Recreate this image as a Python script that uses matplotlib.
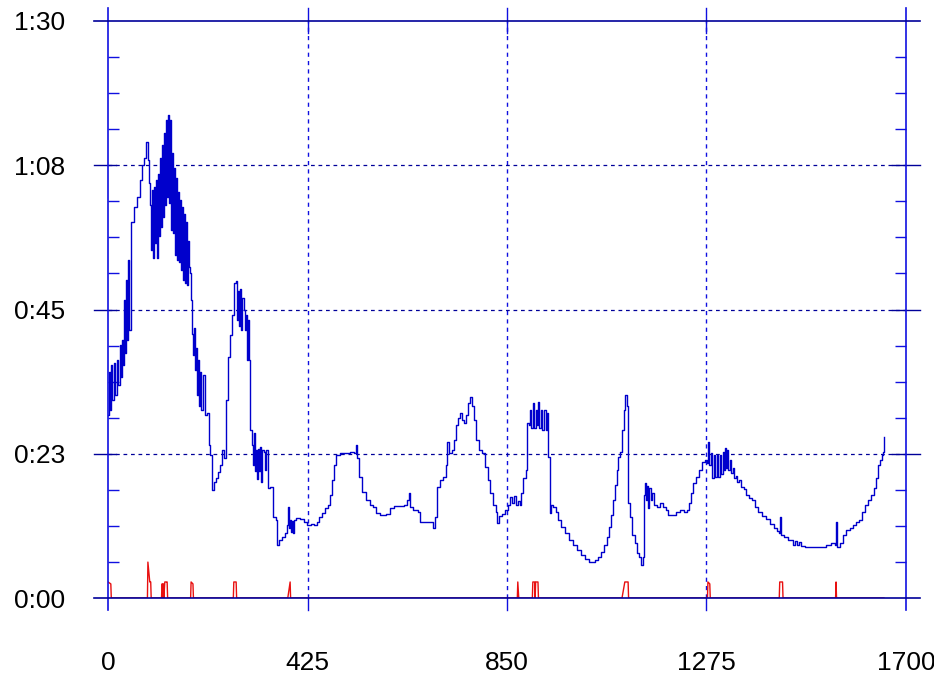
import numpy as np
import matplotlib
matplotlib.use("Agg")
import matplotlib.pyplot as plt
from matplotlib.ticker import MultipleLocator

plt.rcParams["font.family"] = ["Liberation Sans", "DejaVu Sans"]

# blue series (x, seconds)
blue_x = [0, 2, 4, 6, 9, 13, 15, 19, 21, 26, 28, 30, 32, 34, 36, 38, 40, 43, 45,
          49, 55, 62, 68, 72, 77, 81, 85, 87, 89, 92, 94, 96, 98, 100, 102, 104,
          107, 109, 111, 113, 115, 117, 119, 121, 124, 126, 128, 130, 132, 134,
          136, 139, 141, 143, 145, 147, 149, 151, 153, 156, 158, 160, 162, 164,
          166, 168, 170, 173, 175, 177, 179, 181, 183, 185, 188, 190, 192, 194,
          196, 198, 202, 207, 211, 215, 217, 222, 226, 230, 234, 239, 243, 247,
          251, 256, 260, 264, 268, 273, 275, 277, 279, 281, 283, 285, 290, 292,
          294, 296, 298, 300, 302, 307, 309, 311, 313, 315, 317, 320, 322, 324,
          326, 328, 332, 334, 337, 341, 345, 351, 358, 360, 364, 371, 377, 381,
          383, 386, 388, 390, 392, 394, 396, 400, 409, 417, 424, 432, 439, 445,
          449, 456, 462, 469, 473, 477, 481, 486, 494, 505, 515, 524, 528, 530,
          535, 541, 550, 558, 564, 571, 579, 592, 601, 609, 618, 630, 637, 641,
          643, 650, 660, 665, 675, 688, 692, 697, 701, 707, 714, 720, 722, 726,
          733, 737, 741, 745, 750, 754, 758, 762, 767, 771, 775, 780, 784, 790,
          797, 803, 809, 814, 820, 826, 828, 833, 839, 846, 852, 856, 861, 865,
          869, 873, 878, 880, 884, 890, 892, 897, 899, 901, 905, 907, 912, 914,
          916, 918, 922, 924, 929, 933, 935, 937, 941, 944, 948, 954, 958, 965,
          973, 982, 990, 999, 1007, 1016, 1025, 1031, 1037, 1044, 1050, 1056,
          1063, 1067, 1071, 1076, 1080, 1084, 1086, 1091, 1095, 1099, 1101, 1106,
          1108, 1112, 1116, 1123, 1127, 1131, 1135, 1140, 1142, 1144, 1146, 1148,
          1150, 1152, 1157, 1159, 1163, 1169, 1176, 1182, 1188, 1193, 1201, 1210,
          1218, 1227, 1233, 1238, 1242, 1246, 1252, 1259, 1265, 1272, 1276, 1278,
          1280, 1284, 1286, 1291, 1293, 1297, 1299, 1304, 1306, 1310, 1312, 1314,
          1316, 1318, 1320, 1325, 1327, 1331, 1333, 1338, 1340, 1344, 1348, 1355,
          1359, 1365, 1372, 1378, 1384, 1393, 1402, 1410, 1419, 1425, 1429, 1431,
          1433, 1440, 1448, 1455, 1459, 1463, 1468, 1472, 1476, 1485, 1500, 1512,
          1523, 1529, 1540, 1549, 1551, 1553, 1559, 1566, 1572, 1580, 1587, 1593,
          1600, 1606, 1612, 1619, 1625, 1632, 1636, 1640, 1644, 1648, 1651, 1653]
blue_y = [28.5, 35.3, 29.3, 36.3, 30.9, 36.7, 31.7, 37.1, 33.2, 39.5, 34.5, 40.2,
          36.3, 46.5, 38.2, 49.6, 40.2, 52.7, 41.8, 58.7, 61.0, 62.6, 65.2, 67.5,
          68.6, 71.1, 68.3, 64.7, 61.3, 54.3, 63.6, 53.0, 64.1, 55.4, 65.2, 53.0,
          66.1, 56.5, 68.6, 57.8, 70.7, 59.4, 72.5, 61.3, 74.6, 62.6, 75.3, 61.6,
          74.6, 57.4, 69.4, 56.9, 67.1, 53.5, 65.5, 52.7, 63.4, 52.4, 62.1, 51.2,
          61.0, 49.6, 59.9, 49.1, 58.7, 48.8, 55.7, 51.6, 50.7, 46.5, 41.2, 37.9,
          42.1, 35.6, 39.0, 31.7, 37.1, 30.0, 35.3, 29.3, 34.8, 28.5, 28.9, 23.9,
          22.3, 16.8, 18.1, 18.7, 19.7, 20.7, 23.1, 21.8, 30.9, 37.6, 41.0, 44.1,
          49.1, 49.5, 43.4, 47.9, 42.4, 48.2, 41.8, 46.8, 44.9, 41.8, 44.1, 37.1,
          43.4, 37.1, 26.2, 23.9, 20.7, 25.7, 19.8, 23.1, 18.6, 23.2, 19.8, 23.6,
          18.1, 23.1, 22.8, 20.0, 23.1, 17.2, 17.3, 12.6, 12.2, 8.3, 9.1, 9.5,
          10.1, 11.4, 14.2, 10.9, 12.2, 10.3, 12.0, 10.1, 12.2, 12.5, 12.3, 11.9,
          11.4, 11.5, 11.4, 11.9, 12.6, 13.3, 14.0, 14.5, 16.1, 18.4, 20.7, 22.3,
          22.6, 22.6, 22.8, 22.6, 23.9, 21.8, 18.9, 16.5, 15.3, 14.5, 14.2, 13.3,
          12.9, 13.1, 14.0, 14.4, 14.4, 14.5, 15.3, 16.4, 14.2, 13.7, 13.4, 11.9,
          11.9, 11.9, 10.9, 12.6, 17.3, 18.4, 18.9, 20.7, 24.3, 22.6, 23.1, 24.6,
          27.0, 28.1, 28.9, 27.8, 27.3, 28.5, 30.4, 31.4, 30.0, 27.8, 24.6, 23.1,
          22.6, 20.4, 18.4, 16.4, 14.5, 13.4, 11.7, 12.8, 13.1, 13.7, 14.5, 15.8,
          14.8, 15.9, 14.5, 15.1, 14.5, 16.4, 18.7, 20.0, 27.3, 27.0, 29.3, 26.5,
          30.4, 26.5, 29.3, 27.0, 30.6, 26.5, 29.3, 26.2, 29.3, 26.2, 28.9, 22.0,
          13.3, 14.5, 14.2, 13.4, 12.2, 11.1, 10.1, 9.0, 8.3, 7.5, 6.7, 6.1, 5.6,
          5.6, 5.9, 6.4, 7.2, 8.3, 9.5, 11.1, 12.9, 15.3, 17.6, 20.0, 22.0, 22.8,
          26.2, 29.3, 31.7, 29.9, 14.8, 12.6, 9.8, 8.6, 7.0, 6.4, 5.1, 6.4, 16.1,
          17.9, 15.3, 17.5, 14.0, 17.2, 15.3, 16.4, 14.5, 14.2, 14.8, 14.2, 13.7,
          12.9, 12.9, 13.4, 13.7, 13.4, 13.7, 14.8, 16.4, 17.9, 18.9, 20.0, 21.2,
          21.5, 21.1, 24.3, 20.8, 22.6, 18.7, 22.3, 18.9, 22.3, 18.9, 22.3, 19.3,
          22.8, 20.0, 23.4, 20.3, 23.1, 20.0, 21.5, 19.5, 20.3, 18.7, 19.0, 18.1,
          18.4, 17.3, 17.0, 16.1, 15.6, 15.3, 14.2, 13.4, 12.8, 12.3, 11.5, 10.9,
          10.5, 10.1, 12.6, 9.8, 9.5, 9.0, 9.0, 8.3, 8.9, 8.3, 8.7, 8.1, 8.0, 8.0,
          8.0, 8.0, 8.3, 8.6, 8.3, 11.9, 8.0, 8.6, 9.8, 10.6, 10.9, 11.4, 11.9,
          12.2, 13.4, 14.5, 15.3, 16.1, 17.2, 18.7, 20.7, 21.5, 22.3, 22.8, 25.1]

# red series (x, seconds)
red_x = [0, 6, 7, 84, 85, 89, 91, 92, 114, 115, 116, 117, 118, 119, 121, 124,
         126, 127, 176, 177, 181, 182, 267, 268, 273, 274, 383, 388, 389, 872,
         873, 875, 904, 905, 909, 910, 911, 916, 917, 1095, 1101, 1108, 1109,
         1277, 1278, 1282, 1283, 1430, 1431, 1437, 1438, 1550, 1551, 1552, 1653]
red_y = [2.5, 2.2, 0, 0, 5.6, 2.5, 2.5, 0, 0, 2.2, 2.2, 0, 2.2, 0, 2.5, 2.5,
         2.5, 0, 0, 2.5, 2.2, 0, 0, 2.5, 2.5, 0, 0, 2.5, 0, 0,
         2.5, 0, 0, 2.5, 2.5, 0, 2.5, 2.5, 0, 0, 2.5, 2.5, 0,
         0, 2.5, 2.2, 0, 0, 2.5, 2.5, 0, 0, 2.5, 0, 0]

x_ticks = [0, 425, 850, 1275, 1700]
y_ticks = [0, 22.5, 45, 67.5, 90]
y_labels = ["0:00", "0:23", "0:45", "1:08", "1:30"]

vblue = "#1010e0"
hblue = "#000099"

fig = plt.figure(figsize=(9.34, 6.76), dpi=100)
ax = fig.add_axes([108 / 934, 78 / 676, 798 / 934, 577 / 676])

ax.plot(red_x, red_y, color="#e81010", lw=1.0, zorder=3)
ax.plot(blue_x, blue_y, color="#0000cc", lw=1.0, drawstyle="steps-post", zorder=4)

ax.set_xlim(0, 1700)
ax.set_ylim(0, 90)
for s in ax.spines.values():
    s.set_visible(False)

# frame lines that run past the plot area
for xv in (0, 1700):
    ax.axvline(xv, ymin=-0.021, ymax=1.023, color=vblue, lw=1.2, clip_on=False, zorder=5)
for xv in x_ticks[1:-1]:
    ax.axvline(xv, color=vblue, lw=1.0, ls=(0, (3, 3)), zorder=2)
    ax.axvline(xv, ymin=-0.021, ymax=0, color=vblue, lw=1.0, clip_on=False)
    ax.axvline(xv, ymin=0.98, ymax=1.023, color=vblue, lw=1.0, clip_on=False)
for yv in (0, 90):
    ax.axhline(yv, xmin=-0.017, xmax=1.017, color=hblue, lw=1.2, clip_on=False, zorder=5)
for yv in y_ticks[1:-1]:
    ax.axhline(yv, color=hblue, lw=0.9, ls=(0, (3, 3)), zorder=2)
    ax.axhline(yv, xmin=-0.017, xmax=0.01, color=hblue, lw=1.0, clip_on=False)
    ax.axhline(yv, xmin=0.982, xmax=1.017, color=hblue, lw=1.0, clip_on=False)

ax.set_xticks(x_ticks)
ax.set_xticklabels([str(v) for v in x_ticks], fontsize=19)
ax.set_yticks(y_ticks)
ax.set_yticklabels(y_labels, fontsize=19)
ax.yaxis.set_minor_locator(MultipleLocator(5.625))
ax.tick_params(axis="x", which="both", length=0, pad=38)
ax.tick_params(axis="y", which="major", length=0, pad=31)
ax.tick_params(axis="y", which="minor", direction="in", length=8, width=1.0,
               color=vblue, left=True, right=True)

fig.savefig("out.png", dpi=100)
